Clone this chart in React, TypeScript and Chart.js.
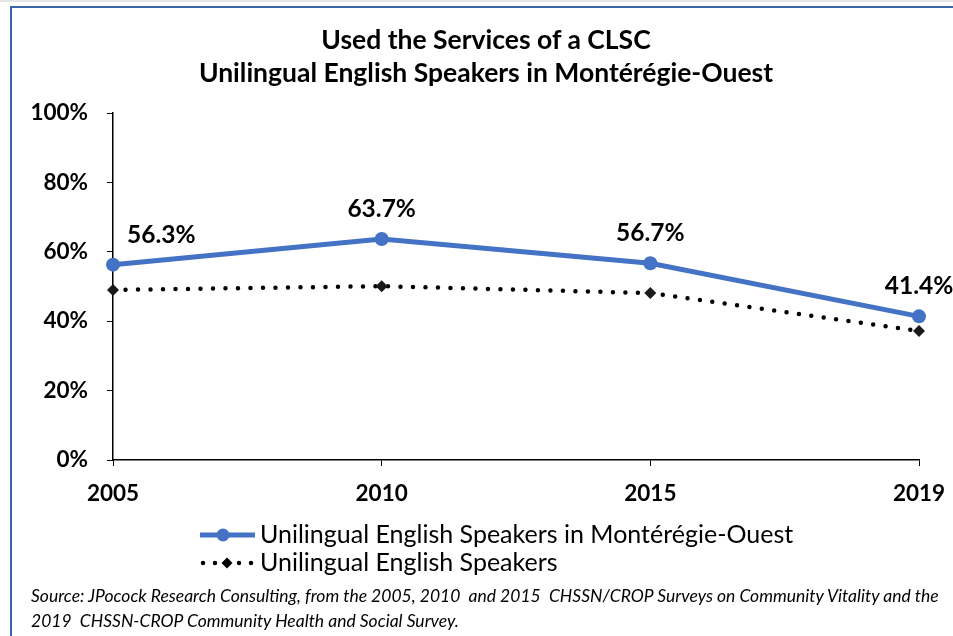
import React, { useEffect, useRef } from "react";
import { Chart, registerables } from "chart.js";

Chart.register(...registerables);

const categories = ["2005", "2010", "2015", "2019"];
const monteregieValues = [56.3, 63.7, 56.7, 41.4];
const englishValues = [49.0, 50.1, 48.1, 37.2];
const seriesNames = [
  "Unilingual English Speakers in Montérégie-Ouest",
  "Unilingual English Speakers",
];
const titleLines = [
  "Used the Services of a CLSC",
  "Unilingual English Speakers in Montérégie-Ouest",
];
const sourceLines = [
  "Source: JPocock Research Consulting, from the 2005, 2010  and 2015  CHSSN/CROP Surveys on Community Vitality and the",
  "2019  CHSSN-CROP Community Health and Social Survey.",
];

const FONT = "Lato, 'Open Sans', sans-serif";
const BLUE = "#4472C4";

const labelPlugin = {
  id: "customLabels",
  afterDatasetsDraw(chart: any) {
    const ctx = chart.ctx;
    const meta = chart.getDatasetMeta(0);
    const data = chart.data.datasets[0].data as number[];
    ctx.save();
    ctx.font = `bold 24.5px ${FONT}`;
    ctx.fillStyle = "#000";
    ctx.textBaseline = "middle";
    meta.data.forEach((pt: any, i: number) => {
      const txt = data[i].toFixed(1) + "%";
      if (i === 0) {
        ctx.textAlign = "left";
        ctx.fillText(txt, pt.x + 14, pt.y - 30);
      } else {
        ctx.textAlign = "center";
        ctx.fillText(txt, pt.x, pt.y - 30);
      }
    });
    ctx.restore();
  },
  afterDraw(chart: any) {
    const ctx = chart.ctx;
    ctx.save();
    ctx.font = `25px ${FONT}`;
    ctx.fillStyle = "#000";
    ctx.textBaseline = "middle";
    ctx.textAlign = "left";
    // legend 1
    const y1 = 535;
    ctx.strokeStyle = BLUE;
    ctx.lineWidth = 5;
    ctx.lineCap = "butt";
    ctx.beginPath();
    ctx.moveTo(200, y1);
    ctx.lineTo(255, y1);
    ctx.stroke();
    ctx.fillStyle = BLUE;
    ctx.beginPath();
    ctx.arc(223, y1, 6.5, 0, Math.PI * 2);
    ctx.fill();
    ctx.fillStyle = "#000";
    ctx.fillText(chart.data.datasets[0].label, 260, y1);
    // legend 2
    const y2 = 563;
    ctx.strokeStyle = "#000";
    ctx.lineWidth = 4.5;
    ctx.lineCap = "round";
    ctx.setLineDash([0, 12]);
    ctx.beginPath();
    ctx.moveTo(203, y2);
    ctx.lineTo(256, y2);
    ctx.stroke();
    ctx.setLineDash([]);
    ctx.beginPath();
    ctx.moveTo(227, y2 - 5.5);
    ctx.lineTo(232.5, y2);
    ctx.lineTo(227, y2 + 5.5);
    ctx.lineTo(221.5, y2);
    ctx.closePath();
    ctx.fill();
    ctx.fillText(chart.data.datasets[1].label, 260, y2);
    ctx.restore();
  },
};

export default function App() {
  const ref = useRef<HTMLCanvasElement | null>(null);
  useEffect(() => {
    if (!ref.current) return;
    const chart = new Chart(ref.current, {
      type: "line",
      data: {
        labels: categories,
        datasets: [
          {
            label: seriesNames[0],
            data: monteregieValues,
            borderColor: BLUE,
            backgroundColor: BLUE,
            borderWidth: 5,
            pointRadius: 7,
            pointHoverRadius: 7,
            pointBackgroundColor: BLUE,
            pointBorderWidth: 0,
            tension: 0,
            clip: false,
          },
          {
            label: seriesNames[1],
            data: englishValues,
            borderColor: "#000",
            backgroundColor: "#000",
            borderWidth: 4.5,
            borderDash: [0, 12.5],
            borderCapStyle: "round",
            pointStyle: "rectRot",
            pointRadius: 6,
            pointBackgroundColor: "#1a1a1a",
            pointBorderWidth: 0,
            tension: 0,
            clip: false,
          },
        ],
      },
      options: {
        animation: false,
        responsive: false,
        devicePixelRatio: 1,
        layout: { padding: { left: 0, right: 34, top: 113, bottom: 0 } },
        plugins: {
          legend: { display: false },
          title: { display: false },
          tooltip: { enabled: false },
        },
        scales: {
          x: {
            offset: false,
            afterFit: (s: any) => {
              s.height = 176;
              s.paddingLeft = 0;
              s.paddingRight = 0;
            },
            grid: {
              display: true,
              drawOnChartArea: false,
              drawTicks: true,
              tickLength: 6,
              color: "#000",
            },
            border: { display: true, color: "#000", width: 1.5 },
            ticks: {
              padding: 14,
              color: "#000",
              font: { family: FONT, size: 22.5, weight: "bold" },
              maxRotation: 0,
            },
          },
          y: {
            min: 0,
            max: 100,
            afterFit: (s: any) => {
              s.width = 113;
            },
            grid: {
              display: true,
              drawOnChartArea: false,
              drawTicks: true,
              tickLength: 6,
              color: "#000",
            },
            border: { display: true, color: "#000", width: 1.5 },
            ticks: {
              stepSize: 20,
              padding: 19,
              color: "#000",
              font: { family: FONT, size: 22.5, weight: "bold" },
              callback: (v: any) => v + "%",
            },
          },
        },
      },
      plugins: [labelPlugin],
    });
    return () => chart.destroy();
  }, []);

  return (
    <div
      style={{
        position: "fixed",
        left: 0,
        top: 0,
        width: 953,
        height: 636,
        background: "#fff",
        overflow: "hidden",
        fontFamily: FONT,
      }}
    >
      <div
        style={{
          position: "absolute",
          left: 0,
          top: 0,
          width: 953,
          height: 2,
          background: "#e6e6e6",
        }}
      />
      <div
        style={{
          position: "absolute",
          left: 10,
          top: 6,
          width: 1000,
          height: 700,
          borderLeft: "2px solid #3b64ad",
          borderTop: "2px solid #3b64ad",
        }}
      />
      <canvas
        ref={ref}
        width={953}
        height={636}
        style={{ position: "absolute", left: 0, top: 0, width: 953, height: 636 }}
      />
      <div
        style={{
          position: "absolute",
          left: 486,
          top: 23,
          transform: "translateX(-50%)",
          whiteSpace: "nowrap",
          textAlign: "center",
          fontWeight: "bold",
          fontSize: 26.5,
          lineHeight: "33px",
          color: "#000",
        }}
      >
        {titleLines.map((t, i) => (
          <div key={i}>{t}</div>
        ))}
      </div>
      <div
        style={{
          position: "absolute",
          left: 31,
          top: 583,
          fontStyle: "italic",
          fontSize: 17.5,
          lineHeight: "25px",
          color: "#000",
          whiteSpace: "pre",
        }}
      >
        {sourceLines.map((t, i) => (
          <div key={i}>{t}</div>
        ))}
      </div>
    </div>
  );
}
